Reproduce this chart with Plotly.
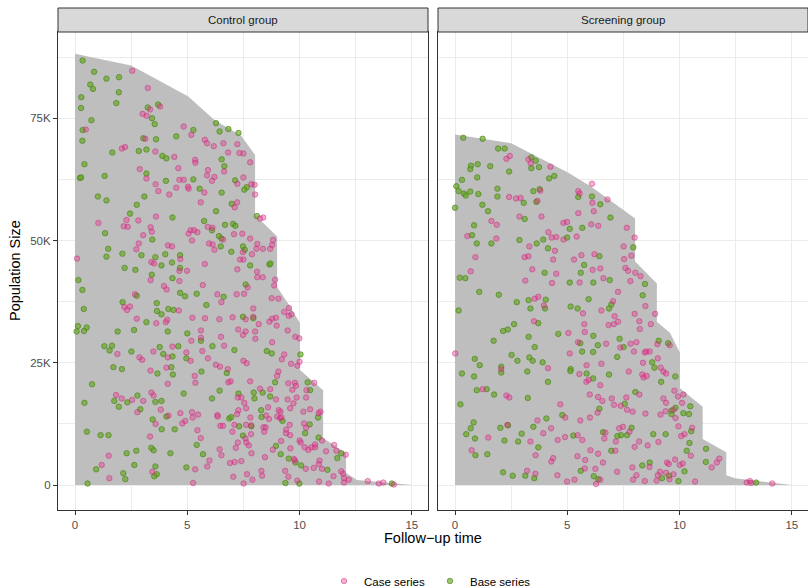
import numpy as np
import plotly.graph_objects as go

# ---------------- data (population in thousands) ----------------
ctrl_area_time = [0, 2.5, 5.03, 6.22, 7.4, 8.02, 8.02, 9.0, 9.0, 9.58, 10.02, 10.02, 11.05, 11.05, 12.07, 12.07, 12.56, 15.06]
ctrl_area_pop = [88.2, 85.8, 79.5, 74.6, 71.4, 67.5, 55.2, 50.8, 40.5, 36.5, 33.1, 23.5, 19.4, 9.6, 6.5, 2.45, 1.0, 0]

scr_area_time = [0, 2.5, 5.03, 6.07, 7.7, 8.02, 8.02, 8.99, 8.99, 9.58, 10.02, 10.02, 11.03, 11.03, 12.08, 12.08, 12.47, 15.0]
scr_area_pop = [71.7, 69.9, 63.9, 61.0, 55.6, 54.5, 45.7, 41.2, 33.4, 31.1, 27.0, 19.8, 16.0, 9.4, 6.7, 2.0, 1.4, 0]

ctrl_case = [
(2.55,84.7),(3.24,81.2),(3.34,76.8),(3.79,77.4),(3.01,75.9),(3.19,75.5),(0.48,72.7),(4.84,73.3),(5.18,71.6),(3.13,70.8),(5.78,70.6),(5.88,69.9),(6.18,69.3),(6.61,69.9),(7.23,69.7),(2.09,68.8),(2.23,69.1),(3.58,68.2),(6.82,68.0),(7.32,67.9),(7.50,67.8),(4.42,67.1),(5.35,66.5),(5.36,65.9),(2.88,64.6),(4.60,64.8),(5.92,64.4),(6.64,64.1),(5.88,63.3),(6.21,63.0),(7.50,62.9),(3.18,62.7),(4.65,62.4),(4.84,62.4),(6.10,62.2),(3.59,61.5),(5.03,61.0),(5.06,60.6),(4.51,60.8),(7.23,61.6),(3.71,60.1),(5.76,59.8),(4.20,59.4),
(7.80,66.0),(7.85,61.5),(8.0,61.4),(8.02,59.4),
(5.60,57.8),(7.22,57.8),(7.11,56.8),(3.61,54.9),(2.29,54.2),(2.82,54.1),(1.04,53.6),(2.17,52.9),(2.35,52.8),(3.37,52.7),(5.91,52.8),(6.12,52.6),(5.15,52.1),(5.30,52.1),(5.45,51.7),(3.42,51.8),(5.06,51.4),(7.08,51.3),(7.45,51.4),(3.04,51.1),(6.59,50.2),(5.21,50.0),(5.97,49.4),(6.13,49.2),(2.84,49.4),(4.14,49.0),(4.32,48.8),(6.21,48.1),(2.73,48.2),(7.48,47.6),(0.09,46.3),(4.69,46.2),(7.35,46.1),(7.50,46.1),(3.40,45.6),(3.52,45.3),(5.78,45.2),(4.65,43.8),(4.99,43.8),(7.23,44.1),(3.37,41.9),(4.65,41.7),(5.69,40.9),(3.96,40.7),(4.08,40.0),(2.67,39.0),(6.34,39.0),(7.20,39.0),(7.53,39.1),(6.52,37.4),(2.20,36.4),(2.45,36.5),(2.32,35.8),(4.62,35.7),(2.75,34.0),(4.11,33.8),(4.04,33.3),(5.23,34.2),(5.79,34.1),(6.43,33.9),(7.02,34.3),(7.60,33.9),(3.62,33.1),(5.61,31.6),(7.27,31.8),(7.48,30.7),(7.60,31.4),(5.61,30.1),(5.18,29.5),(6.50,30.3),(1.89,26.8),(4.34,28.3),(3.49,27.3),(4.96,27.1),(5.67,27.4),(6.64,28.5),
(8.24,54.5),(8.38,54.7),(7.80,50.4),(8.12,49.3),(8.78,49.1),(8.82,50.1),(8.08,48.3),(8.37,48.3),(8.69,48.3),(7.88,47.2),(8.11,43.6),(8.12,42.5),(8.36,42.5),(8.91,42.0),(8.87,40.8),(7.69,40.4),(8.76,38.2),(9.06,38.1),(7.94,36.1),(9.32,35.4),(9.53,36.2),(9.64,34.9),(9.52,34.6),(7.94,34.4),(8.78,34.0),(8.95,34.2),(8.66,33.4),(8.18,32.9),(8.98,32.6),(9.47,31.6),(8.02,31.4),(9.81,30.3),(9.99,30.0),(8.03,29.9),(8.78,29.2),(9.32,26.7),
(2.87,26.1),(2.99,25.6),(4.13,26.1),(5.15,25.4),(5.92,25.9),(7.50,25.4),(7.65,24.9),(4.07,24.0),(3.36,23.4),(6.27,24.6),(6.46,24.2),(6.80,23.7),(5.33,22.3),(5.36,20.9),(6.83,21.0),(6.93,21.2),(4.13,20.7),(3.40,18.9),(3.50,18.3),(1.83,18.4),(2.08,17.7),(2.54,17.4),(3.04,17.2),(7.25,17.9),(7.41,17.9),(7.54,16.8),(2.78,14.9),(3.82,15.4),(4.69,14.7),(5.21,14.9),(5.48,14.4),(5.24,13.8),(6.34,14.3),(6.35,14.0),(7.28,15.3),(7.62,15.7),(7.22,14.5),(4.16,14.2),(3.59,12.5),(4.91,13.1),(4.78,12.6),(7.10,12.3),(7.62,12.3),(6.47,12.1),(6.59,12.1),(5.45,11.2),(7.01,10.9),(3.34,9.9),(5.60,9.6),(7.59,9.5),(7.63,8.7),(7.25,8.7),(7.16,7.6),(6.44,7.3),(6.52,6.1),(1.50,6.0),(5.99,5.0),(5.89,3.8),(6.90,4.5),(7.11,4.7),(7.41,4.9),(1.19,4.1),(5.35,3.2),(3.44,2.7),(7.66,2.2),(7.05,1.7),(1.53,1.4),(5.26,0.4),(7.51,0.3),
(9.21,25.7),(10.0,25.2),(9.90,24.4),(9.62,24.8),(9.06,23.2),(9.0,22.3),(9.50,20.8),(9.79,20.9),(9.84,20.3),(10.65,20.9),(7.80,21.2),(8.24,19.7),(8.69,19.6),(9.68,19.5),(10.31,19.4),(8.95,17.5),(9.47,17.5),(9.87,17.9),(10.29,17.9),(9.73,16.7),(8.60,15.9),(9.07,15.3),(9.15,15.0),(9.58,15.7),(10.47,15.5),(10.17,15.0),(10.85,14.7),(10.93,15.0),(8.51,14.2),(8.64,13.5),(9.0,14.0),(9.13,13.7),(9.19,13.8),(9.56,12.3),(7.81,13.8),(7.85,12.2),(10.20,12.6),(10.29,11.7),(8.39,11.8),(8.49,11.8),(8.43,10.9),(9.40,11.3),(9.40,10.6),(9.58,10.2),(7.84,10.4),(9.18,9.0),(10.0,9.1),(10.05,8.7),(10.69,8.3),(10.69,7.7),(11.0,9.1),(11.54,8.2),(10.23,7.7),(10.39,7.2),(10.54,7.7),(11.18,6.9),(11.64,7.0),(9.59,7.5),(8.81,7.2),(7.74,8.1),(7.86,6.5),(8.46,5.7),(9.75,5.3),(9.79,5.0),(10.89,5.0),(10.86,4.3),(10.28,3.3),(10.63,3.5),(11.0,3.3),(12.06,6.2),(8.30,2.9),(8.33,1.9),(9.50,1.7),(9.36,2.9),(7.90,1.1),(9.90,0.9),(10.87,0.7),(11.30,0.3),(11.51,1.8),(11.86,2.8),(11.94,2.3),(11.98,1.4),(11.98,0.5),(12.19,1.1),(13.04,0.8),(13.53,0.3),(13.73,0.5),(14.20,0.1),
]

ctrl_base = [
(0.34,86.8),(0.85,84.5),(1.40,83.1),(1.96,83.4),(0.68,81.9),(0.80,81.0),(1.95,80.3),(0.28,79.3),(1.84,78.1),(0.27,77.1),(3.24,77.2),(3.70,77.8),(3.43,75.0),(3.55,73.8),(0.73,74.6),(0.34,72.6),(0.33,70.4),(5.27,72.6),(6.28,74.0),(6.44,72.3),(6.83,72.8),(7.28,72.0),(4.51,71.3),(3.04,70.9),(3.61,70.7),(1.66,68.0),(2.84,68.3),(3.18,68.6),(3.89,67.3),(4.07,66.8),(6.53,66.6),(0.42,65.6),(6.65,65.2),(3.18,63.7),(0.22,62.8),(0.27,62.9),(1.32,63.2),(4.05,62.2),(5.27,62.5),(7.13,62.3),(5.55,60.6),(7.65,60.9),(7.54,60.4),(6.53,59.8),(3.09,59.0),(1.02,59.0),
(1.40,58.2),(2.75,57.3),(6.98,57.5),(6.28,56.0),(2.45,55.5),(4.34,54.7),(5.75,54.0),(6.68,53.2),(7.04,53.4),(7.14,53.0),(6.10,52.1),(1.34,51.5),(6.41,50.9),(6.52,50.4),(3.44,50.2),(6.49,48.8),(7.48,48.8),(1.48,48.3),(6.96,47.7),(7.56,48.1),(2.11,47.3),(2.96,47.0),(4.02,47.2),(4.68,47.0),(1.40,46.7),(3.58,46.6),(4.32,45.5),(3.85,44.9),(2.21,44.4),(2.69,44.0),(4.68,44.4),(3.42,43.0),(4.34,42.3),(0.15,41.9),(0.33,39.9),(4.68,39.3),(2.75,38.7),(4.90,38.6),(5.42,39.1),(6.62,38.5),(7.60,41.0),(2.12,37.4),(3.64,37.2),(5.85,36.8),(0.39,36.0),(4.16,36.0),(4.39,35.8),(3.65,35.6),(3.85,34.9),(7.48,34.4),(3.18,33.3),(0.13,32.5),(0.52,32.2),(0.07,31.4),(0.40,31.5),(1.90,31.4),(2.63,31.7),(4.13,31.4),(5.00,31.0),(5.61,29.5),(1.31,28.4),(1.65,28.5),(1.54,27.5),(2.51,27.3),(3.77,28.2),(4.60,28.4),(3.93,26.8),(6.12,28.4),(7.10,27.6),
(8.10,55.0),(7.80,44.9),(8.66,45.1),(8.70,45.3),(7.94,34.1),(8.54,27.4),(8.76,26.9),(10.04,26.7),
(4.34,26.3),(4.96,25.9),(1.71,24.1),(2.09,23.7),(4.29,24.1),(3.67,22.8),(4.36,22.6),(5.63,23.2),(6.76,22.9),(0.76,20.6),(6.44,19.3),(4.84,18.7),(2.78,18.3),(1.75,17.2),(2.33,16.9),(3.58,17.0),(3.85,17.2),(0.42,16.8),(6.10,17.7),(7.28,18.7),(1.95,16.0),(2.91,15.5),(4.07,14.0),(3.46,13.4),(6.87,13.6),(6.96,13.9),(7.31,12.0),(0.53,10.9),(1.14,10.2),(1.49,10.2),(3.86,11.4),(4.44,11.4),(7.48,10.1),(5.42,8.2),(3.40,7.6),(3.50,7.1),(5.70,6.3),(4.25,6.5),(2.30,6.5),(2.73,7.0),(2.64,4.1),(3.58,3.8),(4.96,3.6),(0.94,3.2),(2.15,2.4),(3.64,2.2),(3.53,1.8),(2.24,1.2),(0.56,0.3),
(8.91,21.0),(10.36,21.0),(10.47,19.4),(7.96,18.9),(8.36,18.9),(7.99,17.7),(8.69,18.1),(8.29,15.3),(8.31,13.9),(9.24,13.1),(10.82,13.8),(7.85,12.0),(10.45,12.4),(10.25,10.6),(10.85,9.7),(8.95,8.0),(9.16,6.3),(9.52,5.4),(9.82,4.6),(10.07,4.0),(11.24,3.1),(11.68,5.5),(11.86,6.5),(9.37,0.4),(9.99,0.3),(14.11,0.3),
]

scr_case = [
(2.44,67.3),(2.29,66.7),(3.27,66.6),(3.37,65.8),(4.25,65.1),(6.10,61.6),(3.80,60.2),(2.41,58.9),(2.72,58.6),(2.92,58.7),(3.67,58.1),(5.49,60.1),(5.55,59.6),(6.12,57.7),(6.79,58.4),(5.49,55.6),(6.18,56.0),(2.87,54.9),(3.85,54.9),(1.62,54.0),(1.86,53.2),(4.83,53.6),(4.99,53.8),(6.07,53.3),(6.38,53.0),(7.65,52.6),
(0.55,50.9),(1.84,50.4),(4.16,51.7),(4.31,50.6),(4.51,50.7),(4.83,50.2),(5.42,50.8),(7.51,48.8),(3.31,48.8),(4.45,47.9),(0.91,46.6),(3.10,46.6),(3.27,46.8),(4.37,46.1),(5.30,46.1),(5.63,47.0),(6.21,47.2),(7.53,46.2),(0.70,43.7),(3.44,44.1),(4.51,43.2),(6.13,44.0),(6.47,44.3),(7.59,44.4),(3.13,41.8),(4.32,41.3),(5.55,41.4),(6.61,42.3),(7.26,39.5),(3.55,38.1),(3.71,38.5),(3.96,36.7),(7.04,37.6),(6.52,35.7),(5.70,35.1),(7.11,34.5),(3.52,33.5),(5.76,32.9),(7.26,33.4),(7.07,32.9),(6.84,32.7),(5.78,31.3),(5.05,31.1),(5.48,29.2),(6.73,28.9),(7.36,28.1),(0.01,26.9),(5.11,26.9),(5.86,24.5),(6.52,24.8),(2.06,23.7),(4.14,23.9),
(8.0,50.6),(7.85,46.9),(7.71,43.8),(8.03,43.4),(8.26,42.7),(7.81,41.7),(8.48,36.6),(8.0,35.0),(8.91,35.0),(8.21,33.5),(8.72,32.9),(8.23,31.9),(7.82,28.9),(8.08,29.2),(9.56,28.6),(9.01,28.8),(7.97,27.3),(8.45,27.1),(8.52,27.3),(8.67,27.3),(9.03,25.9),(8.37,25.0),(9.16,24.0),
(5.54,22.7),(5.85,21.1),(5.95,21.5),(6.47,20.4),(1.23,19.6),(2.29,18.3),(2.42,17.9),(6.0,18.5),(6.37,18.0),(6.56,17.2),(6.98,17.7),(7.08,16.4),(7.38,16.2),(7.63,17.9),(7.66,15.4),(4.69,16.5),(6.35,14.8),(4.91,13.8),(3.67,13.2),(5.58,13.2),(6.01,13.8),(2.33,12.3),(4.28,11.6),(1.48,9.7),(3.36,8.9),(3.93,10.6),(4.57,9.2),(4.90,9.8),(5.46,10.2),(5.67,9.2),(6.70,10.7),(6.65,9.5),(7.31,11.6),(7.48,11.9),(7.16,8.9),(0.74,7.1),(3.59,6.1),(4.37,5.5),(4.29,4.8),(5.45,5.9),(6.03,7.1),(6.37,6.4),(5.80,5.1),(6.59,4.6),(7.14,7.0),(5.78,3.4),(6.25,3.3),(7.22,2.7),(3.21,2.9),(3.58,2.3),(4.56,2.0),(4.99,0.7),(5.32,1.1),(6.47,1.1),(6.28,0.2),
(7.74,23.2),(8.34,22.6),(8.40,22.0),(8.54,22.3),(9.28,23.2),(9.40,22.8),(8.21,18.5),(9.77,19.3),(9.93,18.1),(10.17,18.5),(9.28,17.7),(9.40,16.8),(10.11,16.8),(7.91,15.0),(8.48,14.6),(9.15,14.4),(9.38,15.1),(9.73,15.4),(9.82,13.7),(9.95,12.0),(10.56,11.7),(10.22,10.4),(10.07,10.0),(10.50,6.0),(11.77,5.4),(11.66,4.6),(11.43,3.6),(7.77,10.9),(8.20,8.9),(8.0,7.8),(8.58,8.1),(9.06,8.8),(9.44,4.6),(9.52,4.3),(9.80,5.2),(10.01,4.1),(10.14,4.4),(8.66,3.7),(7.90,3.6),(9.13,2.7),(9.03,2.0),(9.40,2.5),(9.73,2.2),(9.55,1.2),(8.98,0.9),(8.08,2.0),(7.93,1.1),(8.45,0.8),(10.69,0.7),(12.99,0.5),(13.14,0.8),(13.19,0.4),(14.13,0.3),
]

scr_base = [
(0.37,71.0),(1.23,70.8),(1.92,68.8),(2.21,68.8),(3.40,67.0),(3.59,66.3),(3.40,64.8),(3.74,65.0),(0.71,65.3),(1.01,65.6),(0.68,64.6),(1.57,65.2),(2.41,64.1),(0.99,62.9),(0.31,62.4),(4.19,62.7),(4.42,63.2),(0.06,61.1),(0.16,60.1),(0.40,59.6),(0.48,59.2),(0.68,60.0),(1.04,59.5),(1.89,60.6),(1.89,59.0),(3.49,60.1),(3.77,60.5),(3.06,57.7),(3.62,57.9),(5.49,58.9),(6.10,59.0),(6.47,57.4),(0.0,56.7),(1.22,57.3),(1.47,56.0),(3.10,54.4),(0.85,53.1),(6.92,54.7),(5.11,52.4),(5.67,52.6),
(0.76,51.1),(0.97,49.4),(1.62,49.4),(2.87,50.1),(3.64,49.4),(3.93,50.2),(4.99,50.6),(4.14,48.4),(6.43,46.8),(5.75,45.0),(3.99,43.4),(5.60,43.4),(0.21,42.4),(0.46,42.3),(5.11,41.4),(6.16,41.4),(6.89,41.9),(1.08,39.5),(1.95,38.9),(2.75,37.4),(3.28,37.8),(4.04,37.9),(4.01,36.1),(3.36,36.1),(5.95,38.0),(5.15,36.5),(5.46,36.1),(6.96,36.9),(6.86,36.1),(0.16,35.7),(3.71,33.1),(2.63,32.9),(2.35,31.8),(2.14,31.5),(4.60,30.9),(6.16,30.5),(3.28,30.3),(1.72,29.5),(7.33,29.9),(5.58,29.0),(6.36,28.6),(7.51,28.2),(3.55,28.2),(5.66,27.3),(6.15,27.2),(2.52,26.6),(0.88,25.8),(3.31,26.1),(3.46,25.4),(2.78,25.4),(7.22,26.2),(1.10,24.5),(3.90,25.1),(2.06,24.2),(5.15,23.7),
(7.94,48.6),(8.46,41.1),(8.36,38.8),(9.07,29.5),(9.49,29.0),(8.78,25.1),(8.88,24.0),
(2.06,23.0),(0.31,22.8),(0.85,22.2),(3.22,23.2),(5.14,23.3),(4.14,21.1),(5.86,22.8),(6.15,21.8),(6.86,22.6),(0.97,19.4),(1.41,19.6),(1.74,18.5),(3.24,17.8),(7.56,16.6),(0.24,16.5),(6.43,15.6),(4.78,14.3),(4.07,13.6),(0.83,12.8),(0.70,11.6),(2.02,11.7),(2.36,12.2),(3.49,11.9),(0.50,10.4),(0.89,9.5),(2.20,9.1),(2.97,10.5),(2.81,8.9),(5.27,10.1),(6.59,10.8),(7.39,10.2),(7.23,10.0),(7.66,10.2),(0.91,6.1),(1.44,6.3),(3.71,7.7),(6.96,7.0),(5.60,2.9),(2.14,2.6),(2.57,1.9),(3.13,1.9),(3.53,1.4),(6.18,1.8),(6.38,1.2),
(9.81,22.2),(9.18,21.1),(8.03,19.0),(9.64,15.2),(9.82,15.8),(9.64,14.5),(10.17,14.7),(10.42,14.5),(10.48,16.1),(10.52,11.0),(10.44,8.6),(10.32,7.0),(11.18,7.4),(11.17,4.7),(7.86,11.7),(8.83,10.4),(9.38,10.4),(8.34,4.0),(8.67,4.6),(10.22,2.8),(9.53,1.9),(9.22,1.4),(9.95,0.8),(13.41,0.5),
]

panel_titles = ["Control group", "Screening group"]
x_ticks = [0, 5, 10, 15]
y_tickvals = [0, 25000, 50000, 75000]
y_ticktext = ["0", "25K", "50K", "75K"]

# ---------------- figure ----------------
W, H = 808, 588
ML, MR, MT, MB = 58, 0, 32, 78
pw = W - ML - MR
ph = H - MT - MB
gap = 10 / pw
dom_l = [0, (1 - gap) / 2]
dom_r = [(1 + gap) / 2, 1]

CASE_FILL = "rgba(231,41,138,0.38)"
CASE_LINE = "rgba(200,40,120,0.6)"
BASE_FILL = "rgba(102,166,30,0.65)"
BASE_LINE = "rgba(70,130,20,0.8)"
FONT = "Liberation Sans, Arial, sans-serif"

fig = go.Figure()

panels = [
    (ctrl_area_time, ctrl_area_pop, ctrl_case, ctrl_base, "x", "y"),
    (scr_area_time, scr_area_pop, scr_case, scr_base, "x2", "y2"),
]
for i, (at, ap, case, base, xa, ya) in enumerate(panels):
    fig.add_trace(go.Scatter(
        x=at, y=np.array(ap) * 1000, mode="lines", fill="tozeroy",
        line=dict(width=0, color="#BEBEBE"), fillcolor="#BEBEBE",
        showlegend=False, hoverinfo="skip", xaxis=xa, yaxis=ya))
    cb = np.array(base)
    fig.add_trace(go.Scatter(
        x=cb[:, 0], y=cb[:, 1] * 1000, mode="markers", name="Base series",
        marker=dict(size=5.5, color=BASE_FILL, line=dict(width=0.8, color=BASE_LINE)),
        showlegend=(i == 0), legendrank=2, xaxis=xa, yaxis=ya))
    cc = np.array(case)
    fig.add_trace(go.Scatter(
        x=cc[:, 0], y=cc[:, 1] * 1000, mode="markers", name="Case series",
        marker=dict(size=5.5, color=CASE_FILL, line=dict(width=0.8, color=CASE_LINE)),
        showlegend=(i == 0), legendrank=1, xaxis=xa, yaxis=ya))

axis_common = dict(
    showline=True, mirror=True, linecolor="#333333", linewidth=1,
    showgrid=True, gridcolor="#EBEBEB", gridwidth=1.3,
    ticklen=4, tickcolor="#333333", tickwidth=1,
    zeroline=False, automargin=False,
    tickfont=dict(family=FONT, size=11.5, color="#4D4D4D"),
)
minor_x = dict(tickvals=[2.5, 7.5, 12.5], showgrid=True, gridcolor="#EBEBEB", gridwidth=0.8, ticks="")
minor_y = dict(tickvals=[12500, 37500, 62500, 87500], showgrid=True, gridcolor="#EBEBEB", gridwidth=0.8, ticks="")
xr = [-0.757, 15.72]
yr = [-5110, 92640]
fig.update_layout(
    xaxis=dict(domain=dom_l, range=xr, tickvals=x_ticks, anchor="y", ticks="outside",
               minor=minor_x, **axis_common),
    xaxis2=dict(domain=dom_r, range=xr, tickvals=x_ticks, anchor="y2", ticks="outside",
                minor=minor_x, **axis_common),
    yaxis=dict(domain=[0, 1], range=yr, tickvals=y_tickvals, ticktext=y_ticktext, anchor="x",
               ticks="outside", minor=minor_y, **axis_common),
    yaxis2=dict(domain=[0, 1], range=yr, tickvals=y_tickvals, ticktext=[""] * 4, anchor="x2",
                ticks="", minor=minor_y, **axis_common),
)

# strips
strip_h = 24 / ph
shapes = []
annotations = []
for dom, title in zip([dom_l, dom_r], panel_titles):
    shapes.append(dict(type="rect", xref="paper", yref="paper", x0=dom[0], x1=dom[1],
                       y0=1.0, y1=1.0 + strip_h, fillcolor="#D9D9D9",
                       line=dict(color="#333333", width=1), layer="above"))
    annotations.append(dict(xref="paper", yref="paper", x=(dom[0] + dom[1]) / 2,
                            y=1.0 + strip_h / 2, text=title, showarrow=False,
                            font=dict(family=FONT, size=11.5, color="#1A1A1A"),
                            xanchor="center", yanchor="middle"))

annotations.append(dict(xref="paper", yref="paper", x=0.5, y=-28 / ph, text="Follow\u2212up time",
                        showarrow=False, xanchor="center", yanchor="middle",
                        font=dict(family=FONT, size=14.5, color="#000000")))
annotations.append(dict(xref="paper", yref="paper", x=-43 / pw, y=0.5, text="Population Size",
                        showarrow=False, xanchor="center", yanchor="middle", textangle=-90,
                        font=dict(family=FONT, size=14.5, color="#000000")))

fig.update_layout(
    width=W, height=H,
    margin=dict(l=ML, r=MR, t=MT, b=MB, autoexpand=False),
    paper_bgcolor="white", plot_bgcolor="white",
    shapes=shapes, annotations=annotations,
    showlegend=True,
    legend=dict(orientation="h", xref="container", yref="container",
                x=430 / W, xanchor="center", y=7 / H, yanchor="middle",
                font=dict(family=FONT, size=11.5, color="#000000"),
                itemwidth=30, tracegroupgap=0, bgcolor="rgba(0,0,0,0)"),
    font=dict(family=FONT),
)

fig.write_html(
    "out.html",
    config={"displayModeBar": False},
    post_script="document.body.style.margin='0px';document.body.style.overflow='hidden';",
)
